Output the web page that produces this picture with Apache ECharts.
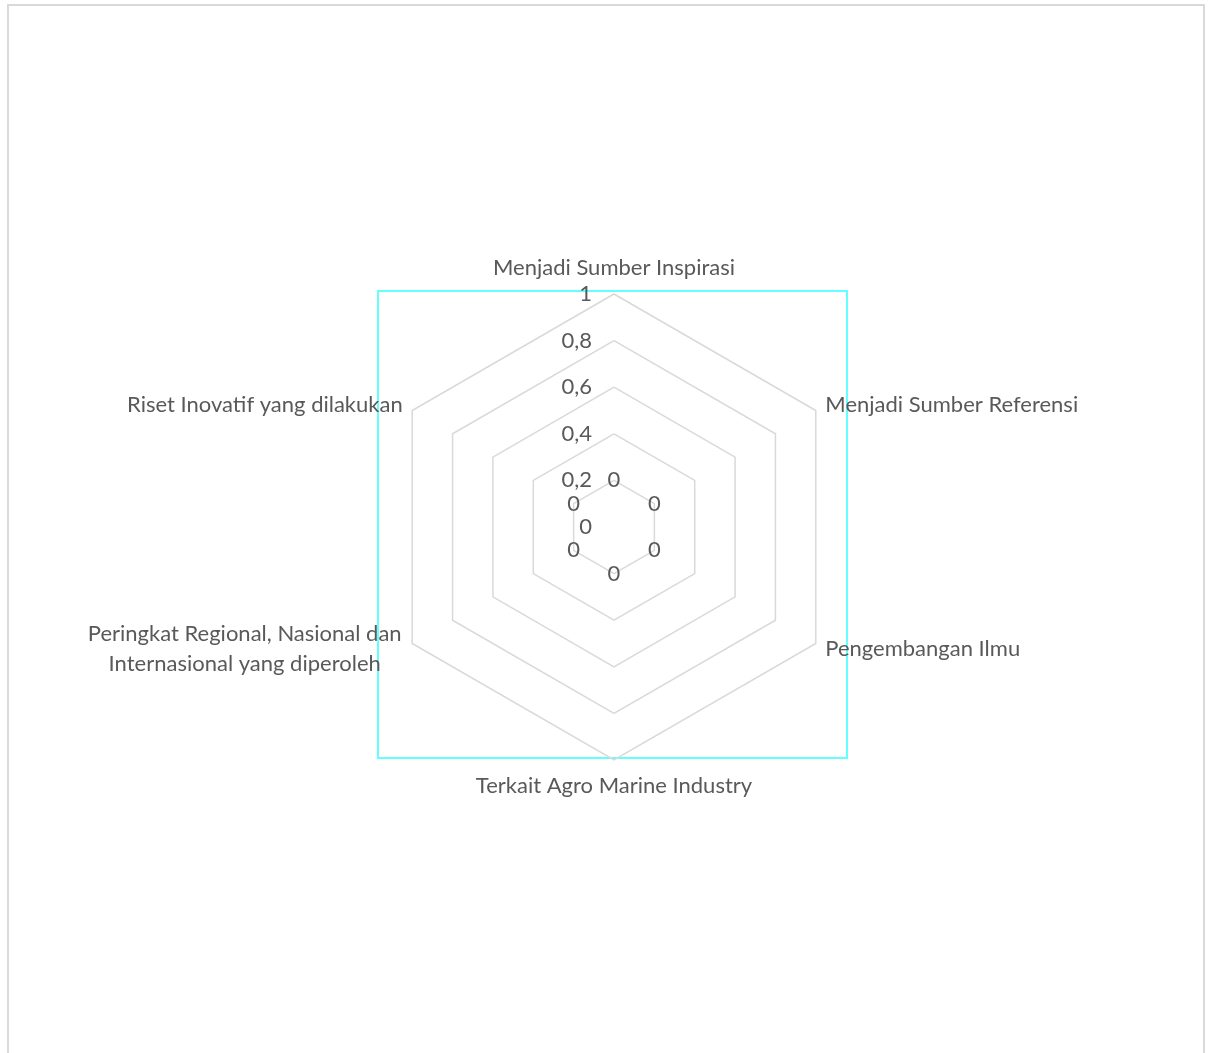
<!DOCTYPE html>
<html>
<head>
<meta charset="utf-8">
<script src="https://cdn.jsdelivr.net/npm/echarts@6/dist/echarts.min.js"></script>
<style>
    html, body { margin: 0; padding: 0; background: #fff; }
    #chart {
        position: absolute;
        left: 7px;
        top: 4px;
        width: 1194px;
        height: 1070px;
        border: 2px solid #d9d9d9;
    }
</style>
</head>
<body>
<div id="chart"></div>
<script>
// indikator searah jarum jam dari atas
const indicators = [
    'Menjadi Sumber Inspirasi',
    'Menjadi Sumber Referensi',
    'Pengembangan Ilmu',
    'Terkait Agro Marine Industry',
    'Peringkat Regional, Nasional dan\nInternasional yang diperoleh',
    'Riset Inovatif yang dilakukan'
];
const values = [0, 0, 0, 0, 0, 0];
const axisMax = 1;

// echarts radar jalan berlawanan jarum jam, jadi urutannya dibalik (kecuali yang pertama)
const order = [0, 5, 4, 3, 2, 1];
const ecIndicators = order.map(i => indicators[i]);
const ecValues = order.map(i => values[i]);

const chart = echarts.init(document.getElementById('chart'));

const cx = 605, cy = 521, R = 233;
const FONT = 'Lato';
const FS = 22;
let labelCount = 0;

const option = {
    animation: false,
    textStyle: { fontFamily: FONT, color: '#595959' },
    // bingkai plot area (cyan)
    graphic: [{
        type: 'rect',
        shape: { x: cx - 236, y: cy - 236, width: 469, height: 467 },
        style: { fill: 'none', stroke: '#66FFFF', lineWidth: 2 },
        silent: true
    }],
    radar: {
        center: [cx, cy],
        radius: R,
        startAngle: 90,
        splitNumber: 5,
        shape: 'polygon',
        nameGap: 11,
        axisName: {
            color: '#595959', fontSize: FS, fontFamily: FONT, lineHeight: 30,
            formatter: function (name) {
                if (name.indexOf('\n') >= 0) return '{c|' + name + '}';
                return name;
            },
            rich: {
                c: { width: 316, align: 'center', color: '#595959', fontSize: FS, fontFamily: FONT, lineHeight: 30 }
            }
        },
        splitLine: { lineStyle: { color: '#d9d9d9', width: 1.5 } },
        splitArea: { show: false },
        axisLine: { show: false },
        axisTick: { show: false },
        axisLabel: {
            show: true,
            color: '#595959',
            fontSize: FS,
            fontFamily: FONT,
            margin: 22,
            formatter: v => String(Math.round(v * 10) / 10).replace('.', ',')
        },
        indicator: ecIndicators.map((n, i) => i === 0
            ? { name: n, min: 0, max: axisMax }
            : { name: n, min: 0, max: axisMax, axisLabel: { show: false } })
    },
    series: [{
        type: 'radar',
        symbol: 'circle',
        symbolSize: 1,
        itemStyle: { color: 'rgba(0,0,0,0)' },
        lineStyle: { width: 0, color: 'rgba(0,0,0,0)' },
        label: {
            show: true,
            position: 'inside',
            opacity: 1,
            color: '#595959',
            fontSize: FS,
            fontFamily: FONT
        },
        // semua nilai 0 -> label disebar ke tiap arah sumbu seperti di Excel
        labelLayout: function (p) {
            const k = labelCount % 6;
            labelCount++;
            const a = (90 + k * 60) * Math.PI / 180;
            return { dx: Math.cos(a) * R * 0.2, dy: -Math.sin(a) * R * 0.2 };
        },
        data: [{ value: ecValues, name: 'Nilai' }]
    }]
};

chart.setOption(option);
</script>
</body>
</html>
